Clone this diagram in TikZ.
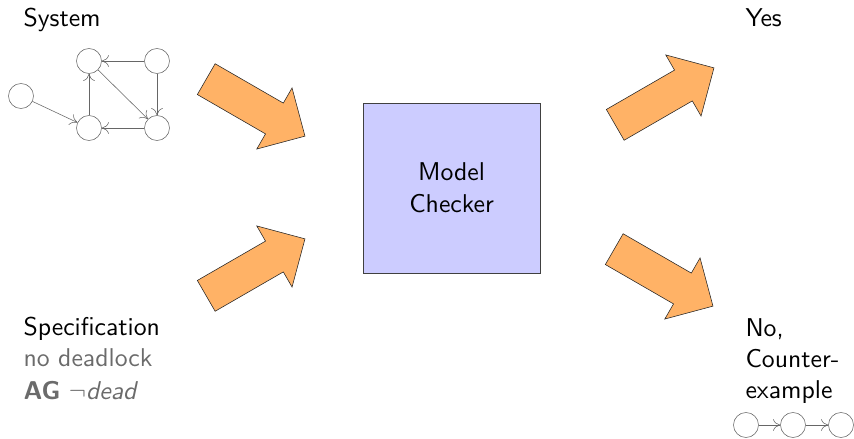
\documentclass[tikz,border=0pt]{standalone}
\usepackage{amsmath,amssymb}
\usepackage{xcolor}
\usepackage{tikz}
\usetikzlibrary{arrows.meta,positioning,shapes.arrows,calc}

\newcommand{\bigsf}[1]{\scalebox{1.83}{\fontsize{10}{12}\selectfont #1}}

\begin{document}
\begin{tikzpicture}[
x=1cm,
y=1cm,
every node/.style={font=\sffamily\fontsize{10}{12}\selectfont},
heading/.style={anchor=base west,inner sep=0pt,align=left,scale=1.83,transform shape},
hint/.style={heading,text=black!58},
checker/.style={rectangle,draw=black!75,fill=blue!20,align=center,minimum width=4.425cm,minimum height=4.25cm,font=\sffamily\fontsize{10}{22}\selectfont},
flow/.style={single arrow,anchor=tail,draw=black!85,fill=orange!60,inner xsep=0pt,inner ysep=0.4375cm,single arrow head extend=0.4375cm,single arrow tip angle=90,minimum height=2.85cm},
state/.style={circle,draw=black!60,thin,fill=white,minimum size=0.625cm,inner sep=0pt},
arr/.style={-{To[length=1.8mm,width=2.9mm]},draw=black!60,thin}
]
\useasboundingbox (0,0) rectangle (21.35,-10.975);

% inputs
\node[heading] (system) at (0.575,-0.675) {System};
\node[state] (s0) at (0.525,-2.4) {};
\node[state] (s1) at (2.225,-1.525) {};
\node[state] (s2) at (3.925,-1.525) {};
\node[state] (s3) at (2.225,-3.2) {};
\node[state] (s4) at (3.925,-3.2) {};

\node[heading] (spec) at (0.575,-8.375) {Specification};
\node[hint] (informal) at (0.575,-9.175) {no deadlock};
\node[hint] (formal) at (0.575,-10.0) {\textbf{AG} $\neg$\textit{dead}};

% the checker and its results
\node[checker] (mc) at (11.29,-4.7) {\bigsf{Model}\\[1pt]\bigsf{Checker}};

\node[heading] (yes) at (18.625,-0.675) {Yes};
\node[heading] (no) at (18.625,-9.95) {No,\\Counter-\\example};
\node[state] (t0) at (18.65,-10.625) {};
\node[state] (t1) at (19.825,-10.625) {};
\node[state] (t2) at (21.025,-10.625) {};

% big flow arrows
\node[flow,rotate=-30] (sysin) at (5.15,-1.975) {};
\node[flow,rotate=30] (specin) at (5.15,-7.4) {};
\node[flow,rotate=30] (yesout) at (15.375,-3.125) {};
\node[flow,rotate=-30] (noout) at (15.35,-6.225) {};

\draw[arr] (s0) -- (s3);
\draw[arr] (s2) -- (s1);
\draw[arr] (s2) -- (s4);
\draw[arr] (s4) -- (s3);
\draw[arr] (s3) -- (s1);
\draw[arr] (s1) -- (s4);
\draw[arr] (t0) -- (t1);
\draw[arr] (t1) -- (t2);
\end{tikzpicture}
\end{document}
